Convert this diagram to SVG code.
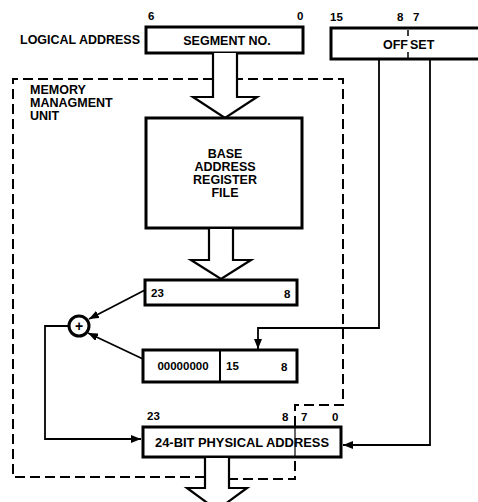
<svg xmlns="http://www.w3.org/2000/svg" width="478" height="502" viewBox="0 0 478 502">
<style>
  .t{font-family:"Liberation Sans",Arial,sans-serif;font-weight:bold;fill:#000}
  .lab{font-size:12.5px}
  .num{font-size:11.5px}
  .box{fill:#fff;stroke:#000;stroke-width:3}
  .thin{fill:none;stroke:#000;stroke-width:1.5}
  .dash{fill:none;stroke:#000;stroke-width:2;stroke-dasharray:10 5}
  .big{fill:#fff;stroke:#000;stroke-width:2.2;stroke-linejoin:miter}
  .conn{fill:none;stroke:#000;stroke-width:1.8}
</style>
<defs>
  <marker id="ah" viewBox="0 0 10 8" refX="10" refY="4" markerWidth="10" markerHeight="8" markerUnits="userSpaceOnUse" orient="auto">
    <path d="M0,0 L10,4 L0,8 Z" fill="#000"/>
  </marker>
</defs>
<rect width="478" height="502" fill="#fff"/>

<g id="mmu-boundary">
  <path class="dash" d="M205,477 L13,477 L13,79 L343,79 L343,405 L295,405 L295,479 L229,479"/>
  <text class="t lab" x="30" y="94">MEMORY</text>
  <text class="t lab" x="30" y="107">MANAGMENT</text>
  <text class="t lab" x="30" y="120">UNIT</text>
</g>

<g id="logical-address">
  <text class="t lab" x="20" y="44" textLength="120" lengthAdjust="spacingAndGlyphs">LOGICAL ADDRESS</text>
</g>

<g id="segment-no">
  <text class="t num" x="148" y="20">6</text>
  <text class="t num" x="297" y="20">0</text>
  <rect class="box" x="146" y="27" width="157" height="26"/>
  <text class="t lab" x="227" y="45" text-anchor="middle">SEGMENT NO.</text>
</g>

<g id="offset">
  <text class="t num" x="330" y="21">15</text>
  <text class="t num" x="397" y="21">8</text>
  <text class="t num" x="413" y="21">7</text>
  <rect class="box" x="331" y="28" width="160" height="31"/>
  <line class="thin" x1="408" y1="30" x2="408" y2="36"/>
  <line class="thin" x1="408" y1="52" x2="408" y2="58"/>
  <text class="t lab" x="383" y="49">OFF</text>
  <text class="t lab" x="410" y="49">SET</text>
</g>

<g id="arrow-segment-to-file">
  <path class="big" d="M213,53 L213,97 L193,97 L225,118 L257,97 L237,97 L237,53"/>
</g>

<g id="base-address-register-file">
  <rect class="box" x="146" y="118" width="156" height="110"/>
  <text class="t lab" x="225" y="158" text-anchor="middle">BASE</text>
  <text class="t lab" x="225" y="171" text-anchor="middle">ADDRESS</text>
  <text class="t lab" x="225" y="184" text-anchor="middle">REGISTER</text>
  <text class="t lab" x="225" y="197" text-anchor="middle">FILE</text>
</g>

<g id="arrow-file-to-base">
  <path class="big" d="M209,229 L209,260 L191,260 L221,279 L251,260 L233,260 L233,229"/>
</g>

<g id="base-register">
  <rect class="box" x="145" y="280" width="152" height="25"/>
  <text class="t num" x="151" y="297">23</text>
  <text class="t num" x="284" y="298">8</text>
</g>

<g id="adder">
  <circle cx="79" cy="326" r="10" fill="#fff" stroke="#000" stroke-width="3"/>
  <text class="t" font-size="14" x="79" y="331" text-anchor="middle">+</text>
</g>

<g id="offset-register">
  <rect class="box" x="143" y="350" width="154" height="32"/>
  <line stroke="#000" stroke-width="2" x1="220" y1="350" x2="220" y2="382"/>
  <text class="t num" x="183" y="370" text-anchor="middle">00000000</text>
  <text class="t num" x="226" y="370">15</text>
  <text class="t num" x="281" y="371">8</text>
</g>

<g id="physical-address">
  <text class="t num" x="147" y="420">23</text>
  <text class="t num" x="282" y="421">8</text>
  <text class="t num" x="301" y="421">7</text>
  <text class="t num" x="332" y="421">0</text>
  <rect class="box" x="143" y="427" width="198" height="30"/>
  <line stroke="#000" stroke-width="1.2" x1="295" y1="428" x2="295" y2="456"/>
  <text class="t lab" x="155" y="447" textLength="174" lengthAdjust="spacingAndGlyphs">24-BIT PHYSICAL ADDRESS</text>
</g>

<g id="arrow-physical-out">
  <path class="big" d="M205,458 L205,488 L187,488 L217,510 L247,488 L229,488 L229,458"/>
</g>

<g id="connectors">
  <line class="conn" x1="145" y1="290" x2="89" y2="319" marker-end="url(#ah)"/>
  <line class="conn" x1="143" y1="359" x2="88" y2="333" marker-end="url(#ah)"/>
  <polyline class="conn" points="69,326 45,326 45,439 141,439" marker-end="url(#ah)"/>
  <polyline class="conn" points="379,59 379,328 258,328 258,349" marker-end="url(#ah)"/>
  <polyline class="conn" points="430,59 430,445 343,445" marker-end="url(#ah)"/>
</g>
</svg>
